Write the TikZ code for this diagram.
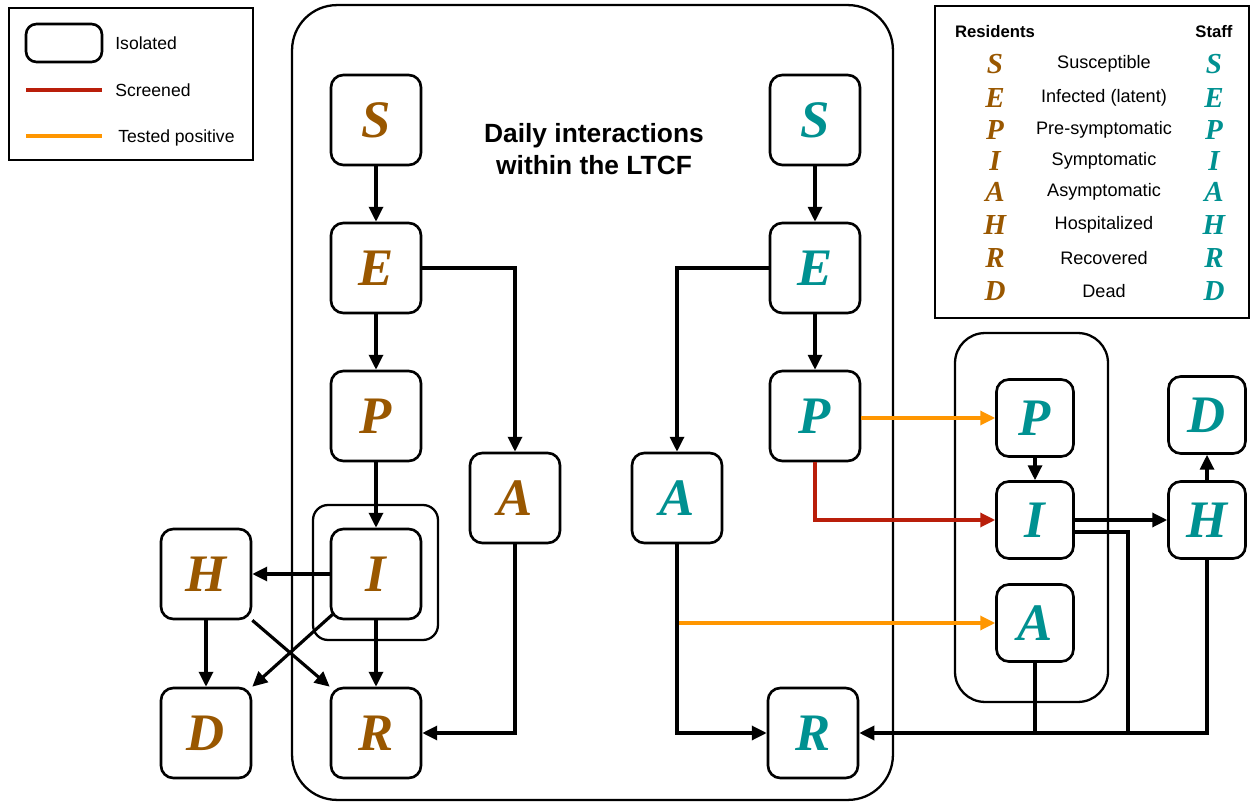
\documentclass[tikz,border=0pt]{standalone}
\usepackage{fontspec}
\setmainfont{Liberation Sans}
\newfontfamily\letterfont{Liberation Serif}
\definecolor{ResBrown}{RGB}{153,87,0}
\definecolor{StaffTeal}{RGB}{0,145,145}
\definecolor{ScreenRed}{RGB}{185,30,10}
\definecolor{TestOrange}{RGB}{255,150,0}
\usetikzlibrary{arrows.meta, positioning, calc}

\begin{document}
\begin{tikzpicture}[x=0.02cm, y=-0.02cm,
  comp/.style={draw, fill=white, line width=1.5pt, rounded corners=7pt,
    minimum size=1.8cm, inner sep=0pt,
    font=\letterfont\bfseries\itshape\fontsize{30}{30}\selectfont},
  small/.style={comp, minimum size=1.54cm},
  res/.style={text=ResBrown},
  stf/.style={text=StaffTeal},
  isobox/.style={draw, line width=1.3pt},
  legbox/.style={draw, line width=0.8pt, inner sep=0pt},
  flow/.style={line width=1.8pt, -{Triangle[length=8.5pt, width=8pt]}},
  link/.style={line width=1.8pt},
  legletter/.style={inner sep=0pt, font=\letterfont\bfseries\itshape\fontsize{16.5}{17}\selectfont},
  legtext/.style={inner sep=0pt, font=\fontsize{10.3}{12}\selectfont}
]
\useasboundingbox (0,0) rectangle (1251,803);

% isolation areas
\node[isobox, rounded corners=0.9cm, minimum width=12.02cm, minimum height=15.9cm] (ltcf) at (592.5,402.5) {};
\node[isobox, rounded corners=0.3cm, minimum width=2.5cm, minimum height=2.7cm] (isoRes) at (375.5,572.5) {};
\node[isobox, rounded corners=0.6cm, minimum width=3.06cm, minimum height=7.38cm] (isoStaff) at (1031.5,517.5) {};

\node[font=\bfseries\fontsize{15}{18}\selectfont, align=center] (title) at (594,149)
  {Daily interactions\\within the LTCF};

% residents
\node[comp, res] (rS) at (376,120) {S};
\node[comp, res] (rE) at (376,268) {E};
\node[comp, res] (rP) at (376,416) {P};
\node[comp, res] (rI) at (376,574) {I};
\node[comp, res] (rA) at (515,498) {A};
\node[comp, res] (rH) at (206,574) {H};
\node[comp, res] (rD) at (206,733) {D};
\node[comp, res] (rR) at (376,733) {R};

% staff
\node[comp, stf] (sS) at (815,120) {S};
\node[comp, stf] (sE) at (815,268) {E};
\node[comp, stf] (sP) at (815,416) {P};
\node[comp, stf] (sA) at (677,498) {A};
\node[comp, stf] (sR) at (813,733) {R};
\node[small, stf] (qP) at (1035,418) {P};
\node[small, stf] (qI) at (1035,520) {I};
\node[small, stf] (qA) at (1035,623) {A};
\node[small, stf] (sH) at (1207,520) {H};
\node[small, stf] (sD) at (1207,415) {D};

% resident flows
\draw[flow] (rS) -- (rE);
\draw[flow] (rE) -- (rP);
\draw[flow] (rP) -- (rI);
\draw[flow] (rE.east) -| (rA.north);
\draw[flow] (rI.west) -- (rH.east);
\draw[flow] ([shift={(3,-6)}]rI.south west) -- (rD.north east);
\draw[flow] (rH.south east) -- (rR.north west);
\draw[flow] (rH) -- (rD);
\draw[flow] (rI) -- (rR);
\draw[flow] (rA.south) |- (rR.east);

% staff flows
\draw[flow] (sS) -- (sE);
\draw[flow] (sE) -- (sP);
\draw[flow] (sE.west) -| (sA.north);
\draw[flow, TestOrange] (sP.east |- qP.west) -- (qP.west);
\draw[flow, ScreenRed] (sP.south) |- (qI.west);
\draw[flow, TestOrange] (sA.south |- qA.west) -- (qA.west);
\draw[flow] (sA.south) |- (sR.west);
\draw[flow] (qP) -- (qI);
\draw[flow] (qI.east) -- (sH.west);
\draw[flow] (sH) -- (sD);
\coordinate (jI) at (1128,733);
\draw[link] ([yshift=-0.24cm]qI.east) -| (jI);
\draw[link] (qA.south) |- (jI);
\draw[flow] (sH.south) |- (sR.east);

% key: line styles
\node[legbox, minimum width=4.88cm, minimum height=3.04cm] (key) at (131,84) {};
\node[draw, line width=1.5pt, rounded corners=6pt, minimum width=1.52cm, minimum height=0.76cm] (keyIso) at (64,43) {};
\node[legtext, font=\fontsize{10}{12}\selectfont, anchor=west] (keyIsoTxt) at (115,43) {Isolated};
\coordinate (keyScrA) at (26,90);
\coordinate (keyScrB) at (102,90);
\draw[ScreenRed, line width=1.8pt] (keyScrA) -- (keyScrB);
\node[legtext, font=\fontsize{10}{12}\selectfont, anchor=west] (keyScrTxt) at (115,90) {Screened};
\coordinate (keyPosA) at (26,136);
\coordinate (keyPosB) at (102,136);
\draw[TestOrange, line width=1.8pt] (keyPosA) -- (keyPosB);
\node[legtext, font=\fontsize{10}{12}\selectfont, anchor=west] (keyPosTxt) at (118,138) {Tested positive};

% key: compartments
\node[legbox, minimum width=6.28cm, minimum height=6.24cm] (comps) at (1092,162) {};
\node[inner sep=0pt, font=\bfseries\fontsize{9.5}{11}\selectfont] (hdrRes) at (995,32) {Residents};
\node[inner sep=0pt, font=\bfseries\fontsize{9.5}{11}\selectfont] (hdrStaff) at (1214,32) {Staff};
\foreach \l/\t/\y in {S/Susceptible/64, E/Infected (latent)/98, P/Pre-symptomatic/130,
    I/Symptomatic/161, A/Asymptomatic/192, H/Hospitalized/225, R/Recovered/258, D/Dead/291} {
  \node[legletter, text=ResBrown] (kr\l) at (995,\y) {\l};
  \node[legtext] (kt\l) at (1104,\y) {\t};
  \node[legletter, text=StaffTeal] (ks\l) at (1214,\y) {\l};
}
\end{tikzpicture}
\end{document}
